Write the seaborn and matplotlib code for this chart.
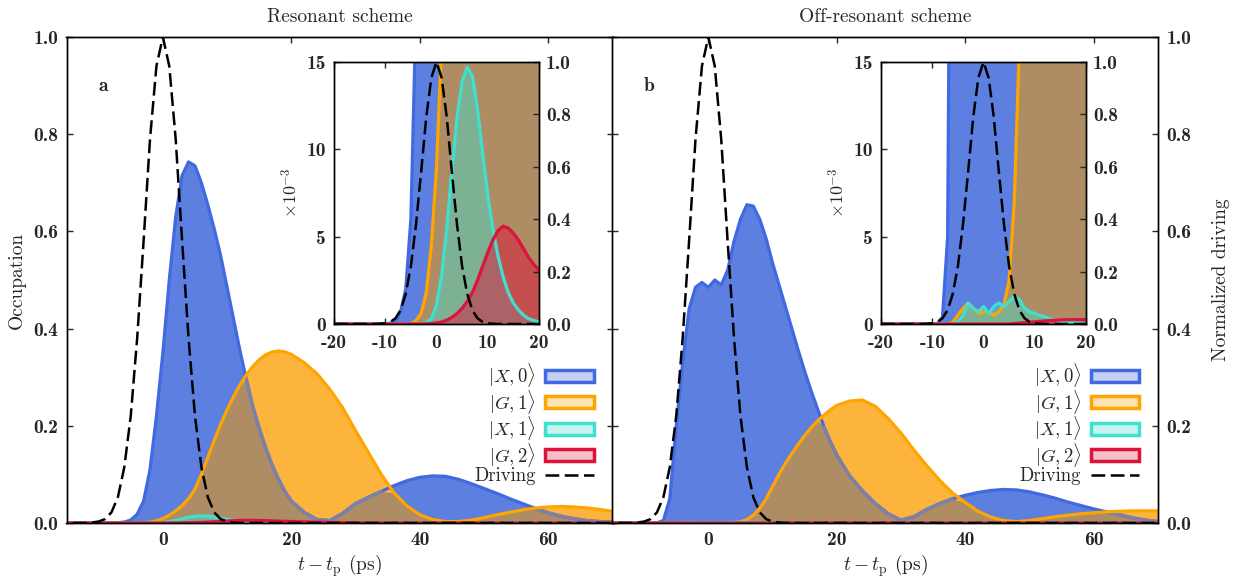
import numpy as np
import matplotlib
matplotlib.use("Agg")
import matplotlib.pyplot as plt
import seaborn as sns
from matplotlib.patches import Patch
from matplotlib.lines import Line2D

# time axis t - t_p (ps): 1 ps steps up to 20 ps, then 2 ps steps
TIME = list(range(-20, 21)) + list(range(22, 71, 2))

# normalized driving pulse (dashed), same in both panels
DRIVE = ([0.0] * 9
         + [0.001, 0.003, 0.008, 0.022, 0.053, 0.115, 0.22, 0.38, 0.58, 0.79, 0.94]
         + [1.0]
         + [0.94, 0.79, 0.58, 0.38, 0.22, 0.115, 0.053, 0.022, 0.008, 0.003, 0.001]
         + [0.0] * 9 + [0.0] * 25)

# panel a: resonant scheme
X0_A = ([0.0] * 10
        + [0.0, 0.00005, 0.0002, 0.0007, 0.002, 0.006, 0.018, 0.045, 0.11, 0.22]
        + [0.35, 0.50, 0.63, 0.715, 0.743, 0.735, 0.70, 0.655, 0.605, 0.55]
        + [0.485, 0.42, 0.355, 0.295, 0.24, 0.195, 0.155, 0.12, 0.09, 0.065]
        + [0.045]
        + [0.022, 0.007, 0.005, 0.02, 0.04, 0.053, 0.065, 0.077, 0.087, 0.094, 0.097, 0.096,
           0.09, 0.081, 0.071, 0.061, 0.05, 0.04, 0.03, 0.021, 0.014, 0.009, 0.005, 0.003, 0.002])
G1_A = ([0.0] * 15
        + [0.0, 0.0002, 0.0006, 0.0018, 0.0045]
        + [0.009, 0.016, 0.025, 0.036, 0.05, 0.07, 0.1, 0.135, 0.17, 0.203]
        + [0.233, 0.26, 0.284, 0.305, 0.322, 0.336, 0.346, 0.352, 0.354, 0.352]
        + [0.347]
        + [0.33, 0.307, 0.275, 0.237, 0.19, 0.145, 0.1, 0.062, 0.035, 0.017, 0.007, 0.003,
           0.003, 0.006, 0.011, 0.017, 0.022, 0.027, 0.031, 0.033, 0.034, 0.033, 0.031, 0.028, 0.024])
X1_A = ([0.0] * 17
        + [0.00002, 0.00008, 0.0003]
        + [0.0011, 0.0028, 0.0055, 0.0088, 0.0118, 0.0139, 0.0147, 0.0142, 0.0123, 0.0098]
        + [0.0074, 0.0054, 0.0039, 0.0027, 0.0018, 0.0012, 0.0008, 0.0005, 0.0003, 0.0002]
        + [0.00012]
        + [0.00005, 0.00003, 0.00002, 0.00003, 0.00005, 0.0001, 0.0002, 0.0003, 0.0004, 0.0004,
           0.0003, 0.0002, 0.0001, 0.00005, 0.00003] + [0.00002] * 10)
G2_A = ([0.0] * 18
        + [0.00001, 0.00003]
        + [0.00006, 0.00012, 0.00022, 0.00038, 0.0006, 0.0009, 0.0013, 0.0018, 0.0025, 0.0033]
        + [0.0041, 0.0048, 0.00535, 0.0056, 0.0055, 0.0052, 0.0048, 0.0043, 0.0038, 0.0034]
        + [0.0031]
        + [0.0024, 0.0017, 0.0012, 0.0008, 0.0005, 0.00035, 0.00025, 0.0002, 0.0002, 0.0002,
           0.0002, 0.0002, 0.0002, 0.00018, 0.00016, 0.00014, 0.00012] + [0.0001] * 8)

# panel b: off-resonant scheme
X0_B = ([0.0] * 11
        + [0.0, 0.0004, 0.005, 0.05, 0.2, 0.33, 0.44, 0.485, 0.495]
        + [0.485, 0.5, 0.49, 0.52, 0.58, 0.625, 0.655, 0.652, 0.625, 0.585]
        + [0.535, 0.49, 0.445, 0.40, 0.355, 0.312, 0.272, 0.235, 0.198, 0.167]
        + [0.14]
        + [0.097, 0.066, 0.04, 0.019, 0.006, 0.013, 0.028, 0.04, 0.05, 0.057, 0.063, 0.067,
           0.069, 0.068, 0.064, 0.058, 0.051, 0.043, 0.036, 0.029, 0.023, 0.017, 0.011, 0.006, 0.003])
G1_B = ([0.0] * 13
        + [0.0, 0.0001, 0.0005, 0.0009, 0.0012, 0.0009, 0.0006]
        + [0.0007, 0.0007, 0.0005, 0.0007, 0.0011, 0.0025, 0.007, 0.016, 0.03, 0.05]
        + [0.075, 0.1, 0.123, 0.143, 0.162, 0.18, 0.196, 0.21, 0.222, 0.233]
        + [0.242]
        + [0.251, 0.253, 0.24, 0.215, 0.185, 0.15, 0.118, 0.088, 0.062, 0.042, 0.024, 0.012,
           0.005, 0.003, 0.005, 0.009, 0.013, 0.016, 0.019, 0.021, 0.023, 0.024, 0.025, 0.025, 0.025])
X1_B = ([0.0] * 15
        + [0.0001, 0.0005, 0.0012, 0.0009, 0.0007]
        + [0.001, 0.0006, 0.001, 0.0012, 0.001, 0.0013, 0.0016, 0.0014, 0.0009, 0.0007]
        + [0.0006, 0.0005, 0.0004, 0.0003, 0.0002, 0.00015, 0.0001, 0.0001, 0.0001, 0.00005]
        + [0.00003]
        + [0.00002] * 25)
G2_B = ([0.0] * 26
        + [0.00003, 0.00005, 0.00008, 0.0001]
        + [0.00013, 0.00015, 0.00018, 0.0002, 0.00021, 0.00023, 0.00024, 0.00025, 0.00025, 0.00025]
        + [0.00025]
        + [0.00024, 0.00022, 0.0002, 0.00018, 0.00015, 0.00013, 0.00011, 0.0001, 0.00009, 0.00008,
           0.00007, 0.00006, 0.00005, 0.00005] + [0.00004] * 11)

STATE_LABELS = [r"$|X,0\rangle$", r"$|G,1\rangle$", r"$|X,1\rangle$", r"$|G,2\rangle$"]
TITLES = ["Resonant scheme", "Off-resonant scheme"]
LETTERS = ["a", "b"]
MAIN_XTICKS = [0, 20, 40, 60]
INSET_XTICKS = [-20, -10, 0, 10, 20]
DRIVE_TICKS = [0.0, 0.2, 0.4, 0.6, 0.8, 1.0]
INSET_YTICKS = [0, 5, 10, 15]  # in units of 1e-3

BLUE, BLUE_FILL, BLUE_MUTED = "#4169E1", "#5d7fe0", "#7f80a8"
ORANGE, ORANGE_FILL = "#FFA500", "#fcb43c"
BROWN = "#ae8c64"
TURQ = "#40E0D0"
RED = "#DC143C"
LIGHT = ["#c5cff3", "#fde3b5", "#c8f5f0", "#f3c0ca"]

sns.set_style("ticks")
plt.rcParams["font.family"] = ["cmr10", "DejaVu Serif"]
plt.rcParams["mathtext.fontset"] = "cm"
plt.rcParams["axes.unicode_minus"] = False
plt.rcParams["axes.formatter.use_mathtext"] = True
plt.rcParams["axes.edgecolor"] = "black"
plt.rcParams["axes.linewidth"] = 1.0

LW = 2.3
DASH = (0, (5.5, 2.2))


def draw_states(ax, t, x0, g1, x1, g2):
    t, x0, g1, x1, g2 = map(np.asarray, (t, x0, g1, x1, g2))
    ax.fill_between(t, 0, x0, color=BLUE_FILL, lw=0)
    ax.fill_between(t, 0, g1, color=ORANGE_FILL, lw=0)
    ax.fill_between(t, 0, np.minimum(x0, g1), color=BROWN, lw=0)
    sns.lineplot(x=t, y=x0, ax=ax, color=BLUE, lw=LW)
    ax.plot(t, np.where(x0 <= g1, x0, np.nan), color=BLUE_MUTED, lw=LW)
    sns.lineplot(x=t, y=g1, ax=ax, color=ORANGE, lw=LW)
    ax.fill_between(t, 0, x1, color=TURQ, alpha=0.45, lw=0)
    sns.lineplot(x=t, y=x1, ax=ax, color=TURQ, lw=LW)
    ax.fill_between(t, 0, g2, color=RED, alpha=0.5, lw=0)
    sns.lineplot(x=t, y=g2, ax=ax, color=RED, lw=LW)


def draw_drive(ax, t, drive):
    sns.lineplot(x=t, y=drive, ax=ax, color="black", lw=1.8, linestyle=DASH)


def fmt1(vals):
    return [f"{v:.1f}" for v in vals]


tick_kw = dict(direction="in", length=4, width=1, labelsize=14, labelfontfamily="cmb10")

fig = plt.figure(figsize=(12.41, 5.79), dpi=100)

panels = [(X0_A, G1_A, X1_A, G2_A), (X0_B, G1_B, X1_B, G2_B)]
main_left = [66.5 / 1241, 612 / 1241]
inset_left = [334 / 1241, 881 / 1241]

for i, (x0, g1, x1, g2) in enumerate(panels):
    ax = fig.add_axes([main_left[i], 56 / 579, 546 / 1241, 486 / 579])
    draw_states(ax, TIME, x0, g1, x1, g2)
    ax.set_xlim(-15, 70)
    ax.set_ylim(0, 1)
    ax.set_xticks(MAIN_XTICKS, labels=[str(v) for v in MAIN_XTICKS])
    ax.set_yticks(DRIVE_TICKS, labels=fmt1(DRIVE_TICKS))
    ax.tick_params(**tick_kw)
    ax.tick_params(axis="x", top=True, pad=6)
    ax.tick_params(axis="y", right=False, labelleft=(i == 0), pad=6)
    ax.set_xlabel(r"$t - t_\mathrm{p}$ (ps)", fontsize=14, labelpad=2)
    if i == 0:
        ax.set_ylabel("Occupation", fontsize=14, labelpad=5)
    else:
        ax.set_ylabel("")
    ax.set_title(TITLES[i], fontsize=14, pad=11)
    ax.text(0.068, 0.9, LETTERS[i], transform=ax.transAxes, fontsize=14,
            fontfamily="cmb10", ha="center", va="center")

    ax2 = ax.twinx()
    draw_drive(ax2, TIME, DRIVE)
    ax2.set_ylim(0, 1)
    ax2.set_yticks(DRIVE_TICKS, labels=fmt1(DRIVE_TICKS))
    ax2.tick_params(**tick_kw)
    ax2.tick_params(axis="y", labelright=(i == 1), pad=6)
    if i == 1:
        ax2.set_ylabel("Normalized driving", fontsize=14, labelpad=15)
    else:
        ax2.set_ylabel("")

    handles = [Patch(facecolor=LIGHT[k], edgecolor=c, lw=2.5)
               for k, c in enumerate([BLUE, ORANGE, TURQ, RED])]
    handles.append(Line2D([], [], color="black", lw=1.8, linestyle=DASH))
    ax2.legend(handles=handles, labels=STATE_LABELS + ["Driving"], loc="upper right",
               bbox_to_anchor=(0.99, 0.36), frameon=False, markerfirst=False,
               fontsize=13.5, handlelength=2.6, handleheight=0.6, handletextpad=0.5,
               labelspacing=-0.08, borderpad=0.2)

    # inset: zoom on the first 20 ps
    axi = fig.add_axes([inset_left[i], (579 - 324) / 579, 205 / 1241, 262 / 579])
    draw_states(axi, TIME, x0, g1, x1, g2)
    axi.set_xlim(-20, 20)
    axi.set_ylim(0, 0.015)
    axi.set_xticks(INSET_XTICKS, labels=[str(v) for v in INSET_XTICKS])
    axi.set_yticks([v * 1e-3 for v in INSET_YTICKS], labels=[str(v) for v in INSET_YTICKS])
    axi.tick_params(**tick_kw)
    axi.tick_params(axis="x", top=True, pad=7)
    axi.tick_params(axis="y", right=False, pad=6)
    axi.set_ylabel(r"$\times 10^{-3}$", fontsize=13, labelpad=4)
    axi.set_xlabel("")

    axi2 = axi.twinx()
    draw_drive(axi2, TIME, DRIVE)
    axi2.set_ylim(0, 1)
    axi2.set_yticks(DRIVE_TICKS, labels=fmt1(DRIVE_TICKS))
    axi2.tick_params(**tick_kw)
    axi2.tick_params(axis="y", pad=5)
    axi2.set_ylabel("")

fig.savefig("out.png", dpi=100)
